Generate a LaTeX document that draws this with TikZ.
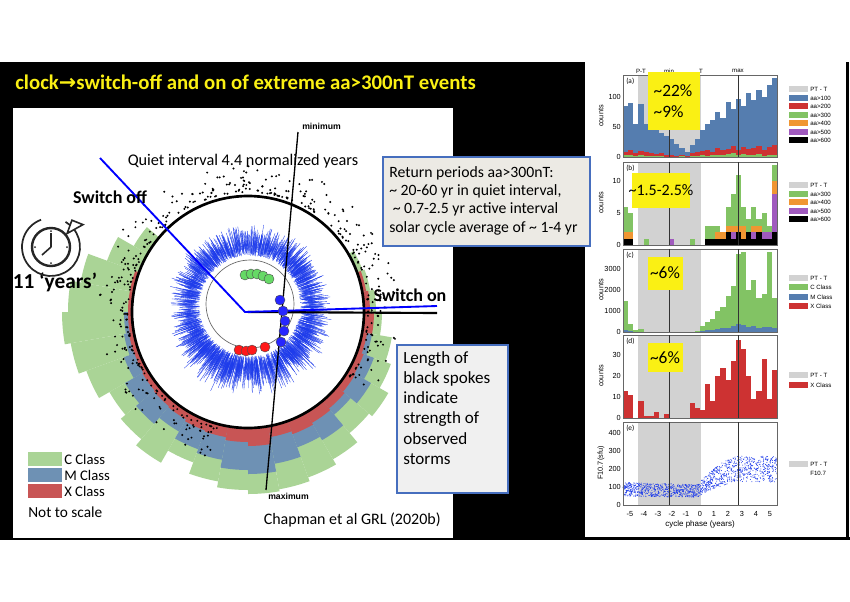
\documentclass[tikz,border=0pt]{standalone}
\usepackage{fontspec}
\setmainfont{Carlito}
\newfontfamily\plotfont{Liberation Sans}
\newfontfamily\symfont{DejaVu Sans}
\usepackage{tikz}
\usetikzlibrary{positioning,arrows}
\definecolor{slideyellow}{RGB}{250,240,20}
\definecolor{wgreen}{RGB}{170,212,150}
\definecolor{wblue}{RGB}{110,145,180}
\definecolor{wred}{RGB}{200,85,85}
\definecolor{ringblue}{RGB}{30,60,235}
\definecolor{pblue}{RGB}{85,125,175}
\definecolor{pred}{RGB}{205,50,50}
\definecolor{pgreen}{RGB}{130,195,100}
\definecolor{porange}{RGB}{240,150,50}
\definecolor{ppurple}{RGB}{160,90,190}
\definecolor{pgrey}{RGB}{210,210,210}
\definecolor{boxfill}{RGB}{236,234,228}
\definecolor{boxline}{RGB}{70,110,190}
\tikzset{
  slidetext/.style = {font=\fontsize{11}{13}\selectfont, inner sep=0pt},
  bigtext/.style = {font=\fontsize{13.5}{15}\selectfont\bfseries, inner sep=0pt},
  infobox/.style = {draw=boxline, line width=1pt, fill=boxfill},
  yellowtag/.style = {fill=slideyellow, inner sep=0pt},
  tagtext/.style = {font=\fontsize{13}{14}\selectfont, inner sep=0pt},
  tinytext/.style = {font=\plotfont\fontsize{4.6}{5}\selectfont, inner sep=0pt},
  axtext/.style = {font=\plotfont\fontsize{5.5}{6}\selectfont, inner sep=0pt},
  marker/.style = {circle, draw=black!70, line width=0.3pt, minimum size=7.5pt, inner sep=0pt}
}
\begin{document}
\begin{tikzpicture}[x=0.75pt,y=-0.75pt]
\useasboundingbox (0,0) rectangle (850,601);
\fill[white] (0,0) rectangle (850,601);
% slide background
\fill[black] (0,62) rectangle (585,540);
\fill[black] (585,537) rectangle (850,540);
\fill[black] (846,62) rectangle (849,540);
\node[anchor=west, text=slideyellow, font=\fontsize{15.6}{17}\selectfont\bfseries, inner sep=0pt] (title) at (15,82)
  {clock{\symfont\bfseries →}switch-off and on of extreme aa>300nT events};
\fill[white] (13,108) rectangle (453,538);

% wheel
\def\cx{248}\def\cy{312}
\coordinate (ctr) at (\cx,\cy);
\begin{scope}[shift={(\cx,\cy)}]
  \foreach \a/\r in {-30/122,-20/124,-10/128,0/134,10/146,20/152,30/162,40/158,50/170,60/176,
      70/180,80/182,90/178,100/172,110/160,120/174,130/166,140/160,150/172,160/180,170/186,180/180,
      190/170,200/150,210/132}
    \fill[wgreen] (0,0) -- (\a:\r) arc[start angle=\a, end angle=\a+10, radius=\r] -- cycle;
  \foreach \a/\r in {0/122,10/126,20/134,30/142,40/134,50/148,60/144,70/154,80/162,90/158,
      100/150,110/146,120/138,130/146,140/142,150/132,160/126,170/124}
    \fill[wblue] (0,0) -- (\a:\r) arc[start angle=\a, end angle=\a+10, radius=\r] -- cycle;
  \foreach \a/\r in {-20/120,-10/122,0/126,10/121,20/123,30/124,40/126,50/128,60/130,70/127,
      80/134,90/130,100/127,110/126,120/124,130/123,140/122,150/121,160/121,170/120,180/120,190/120}
    \fill[wred] (0,0) -- (\a:\r) arc[start angle=\a, end angle=\a+10, radius=\r] -- cycle;
  \fill[white] (0,0) circle (116);
  % spoke dots
  \pgfmathsetseed{11}
  \foreach \k in {1,...,420}{
    \pgfmathsetmacro\t{-255+290*rnd}
    \pgfmathsetmacro\rr{120+30*rnd^2}
    \fill[black] (\t:\rr) circle (1.1);
  }
  \draw[black, line width=2pt] (0,0) circle (116);
\end{scope}

% noisy ring
\begin{scope}[shift={(250,306)}]
  \pgfmathsetseed{5}
  \foreach \k in {1,...,2600}{
    \pgfmathsetmacro\t{rnd*360}
    \pgfmathsetmacro\ra{50+12*rnd}
    \pgfmathsetmacro\rb{\ra+4+18*rnd^2+16*max(0,sin(\t))*rnd^2}
    \draw[ringblue, line width=0.25pt] (\t:\ra) -- (\t:\rb);
  }
  \draw[black!60, line width=0.5pt] (0,-2) circle (44);
\end{scope}

% connectors
\coordinate (minpt) at (298,132);
\coordinate (maxpt) at (266,490);
\coordinate (offend) at (100,158);
\coordinate (onend) at (437,306);
\coordinate (offctr) at (245,312);
\coordinate (rightend) at (437,313);
\draw[black, line width=1pt] (maxpt) -- (minpt);
\draw[black, line width=1.6pt] (ctr) -- (rightend);
\draw[blue, line width=1.4pt] (offend) -- (offctr) -- (onend);

% markers
\foreach \p [count=\i] in {(245,275),(251,274),(257,274),(263,276),(269,279)}
  \node[marker, fill=green!75!black!60] (g\i) at \p {};
\foreach \p [count=\i] in {(280,300),(283,311),(285,321),(284,331),(281,342)}
  \node[marker, fill=blue!85] (b\i) at \p {};
\foreach \p [count=\i] in {(239,350),(246,351),(252,350),(265,347)}
  \node[marker, fill=red!90] (r\i) at \p {};

% labels on wheel
\node[tinytext, font=\plotfont\fontsize{6.5}{7}\selectfont\bfseries, anchor=west] (minlbl) at (302,126) {minimum};
\node[tinytext, font=\plotfont\fontsize{6.5}{7}\selectfont\bfseries, anchor=west] (maxlbl) at (268,496) {maximum};
\node[slidetext, font=\fontsize{12.2}{14}\selectfont] (quiet) at (243,161) {Quiet interval 4.4 normalized years};
\node[bigtext] (swoff) at (110,197) {Switch off};
\node[bigtext] (swon) at (410,295) {Switch on};
\node[bigtext, font=\fontsize{16}{18}\selectfont\bfseries] (years) at (55,282) {11 ‘years’};

% clock
\begin{scope}[shift={(51,247)}]
  \draw[black!85, line width=1.8pt] (0,0) circle (19);
  \draw[black!85, line width=1.2pt] (0,0) -- (0,-14) (0,0) -- (-9,8);
  \foreach \a in {0,90,180,270} \fill[black!85] (\a:16) circle (1);
  \draw[black!85, line width=1.3pt] (-40:29) arc[start angle=-40, end angle=250, radius=29];
  \draw[black!85, line width=1.3pt] (-60:29) arc[start angle=-60, end angle=-40, radius=29];
  \draw[black!85, line width=1.2pt, fill=white] (-40:21) -- (-52:34) -- (-35:39) -- cycle;
\end{scope}

% legend and credits
\foreach \c/\t/\y in {wgreen/C Class/459, wblue/M Class/475, wred/X Class/491}{
  \fill[\c] (28,\y-7) rectangle (62,\y+7);
  \node[slidetext, font=\fontsize{11}{12}\selectfont, anchor=west] at (64,\y) {\t};
}
\node[slidetext, font=\fontsize{11.5}{13}\selectfont, anchor=west] (noscale) at (28,512) {Not to scale};
\node[slidetext, font=\fontsize{12}{14}\selectfont, anchor=east] (credit) at (441,520) {Chapman et al GRL (2020b)};

% text boxes
\draw[infobox] (383,157) rectangle (590,246);
\node[slidetext, font=\fontsize{11.8}{13.8}\selectfont, align=left, anchor=north west] (retbox) at (389,166)
  {Return periods aa>300nT:\\ \textasciitilde{} 20-60 yr in quiet interval,\\ \ \textasciitilde{} 0.7-2.5 yr active interval\\ solar cycle average of \textasciitilde{} 1-4 yr};
\draw[infobox, fill=black!6] (397,345) rectangle (508,493);
\node[slidetext, font=\fontsize{12.8}{15.2}\selectfont, align=left, anchor=north west] (spokebox) at (403,351)
  {Length of\\ black spokes\\ indicate\\ strength of\\ observed\\ storms};

% right panel: histograms
\def\xa{623}\def\w{5.13}
\foreach \ya/\yb in {75/157, 162/245, 249/332, 335/418, 422/505}{
  \fill[pgrey] (638,\ya) rectangle (701,\yb);
}
% (a)
\foreach \v [count=\i] in {85,90,55,88,55,50,45,40,35,30,22,15,8,20,30,45,55,62,75,65,92,80,97,85,106,95,112,100,120,132}
  \fill[pblue] (\xa+\i*\w-\w,157) rectangle ++(\w,-\v*0.6);
\foreach \v [count=\i] in {9,12,7,10,8,6,5,7,4,3,2,3,2,6,8,10,12,9,15,11,14,18,12,16,13,15,19,12,17,20}
  \fill[pred] (\xa+\i*\w-\w,157) rectangle ++(\w,-\v*0.6);
\foreach \v [count=\i] in {3,4,2,3,2,1,1,2,0,0,0,1,0,1,2,3,2,3,4,3,5,6,4,5,3,4,5,2,3,4}
  \fill[pgreen] (\xa+\i*\w-\w,157) rectangle ++(\w,-\v*0.6);
% (b)
\foreach \v [count=\i] in {6,5,0,0,1,0,0,0,0,1,0,0,0,1,0,0,3,3,3,2,6,8,11,6,4,6,4,5,3,12.5}
  \fill[pgreen] (\xa+\i*\w-\w,245) rectangle ++(\w,-\v*6.4);
\foreach \v [count=\i] in {2,2,0,0,0,0,0,0,0,1,0,0,0,0,0,0,1,1,2,2,3,3,3,3,2,3,3,2,2,10}
  \fill[porange] (\xa+\i*\w-\w,245) rectangle ++(\w,-\v*6.4);
\foreach \v [count=\i] in {1,1,0,0,0,0,0,0,0,1,0,0,0,0,0,0,1,1,1,1,2,2,2,1,2,2,2,2,2,8}
  \fill[ppurple] (\xa+\i*\w-\w,245) rectangle ++(\w,-\v*6.4);
\foreach \v [count=\i] in {1,1,0,0,0,0,0,0,0,0,0,0,0,0,0,0,1,1,1,1,2,1,2,1,2,1,2,1,1,2}
  \fill[black] (\xa+\i*\w-\w,245) rectangle ++(\w,-\v*6.4);
% (c)
\foreach \v [count=\i] in {1500,400,100,150,0,0,0,0,0,0,0,0,0,0,50,300,500,600,1000,1200,1700,2200,3700,3800,2000,2500,1600,1800,3800,1600}
  \fill[pgreen] (\xa+\i*\w-\w,332) rectangle ++(\w,-\v*0.021);
\foreach \v [count=\i] in {100,50,0,0,0,0,0,0,0,0,0,0,0,0,0,50,80,100,150,200,200,300,400,350,250,300,200,250,250,200}
  \fill[pblue] (\xa+\i*\w-\w,332) rectangle ++(\w,-\v*0.021);
% (d)
\foreach \v [count=\i] in {13,11,0,8,1,1,3,0,2,0,0,0,0,7,5,4,16,8,20,24,18,27,37,33,20,9,13,28,9,23}
  \fill[pred] (\xa+\i*\w-\w,418) rectangle ++(\w,-\v*2.1);
% (e)
\begin{scope}
  \pgfmathsetseed{3}
  \foreach \k in {1,...,1400}{
    \pgfmathsetmacro\ph{-5.5+11*rnd}
    \pgfmathsetmacro\base{\ph<0 ? 80+8*\ph*\ph/30 : 90+110*sin(min(\ph,3)*30)}
    \pgfmathsetmacro\val{\base+(12+0.3*\base)*rand}
    \fill[ringblue] (700+14*\ph,505-\val*0.18) circle (0.5);
  }
\end{scope}
% frames, phase lines, labels
\foreach \ya/\yb/\lt in {75/157/a, 162/245/b, 249/332/c, 335/418/d, 422/505/e}{
  \draw[black!60, line width=0.5pt] (623,\ya) rectangle (777,\yb);
  \draw[black!80, line width=0.6pt] (669,\ya) -- (669,\yb) (738,\ya) -- (738,\yb);
  \node[tinytext, font=\fontsize{5.5}{6}\selectfont, anchor=north west] at (626,\ya+3) {(\lt)};
}
\foreach \x/\t in {641/P-T, 669/min, 701/T, 738/max}
  \node[tinytext] at (\x,71) {\t};
\foreach \v/\y in {0/157,50/127,100/97, 0/245,5/213,10/181, 0/332,1000/311,2000/290,3000/269,
    0/418,10/397,20/376,30/355, 0/505,100/487,200/469,300/451,400/433}
  \node[axtext, anchor=east] at (621,\y) {\v};
\foreach \y in {116,203,290,376}
  \node[axtext, rotate=90] at (601,\y) {counts};
\node[axtext, rotate=90] at (601,463) {F10.7(sfu)};
\foreach \p in {-5,...,5}
  \node[axtext] at (700+14*\p,514) {\p};
\node[axtext, font=\plotfont\fontsize{6}{7}\selectfont] (phase) at (700,524) {cycle phase (years)};
% right panel legends
\foreach \c/\t/\y in {pgrey/PT - T/89, pblue/aa>100/98, pred/aa>200/106, pgreen/aa>300/115, porange/aa>400/123, ppurple/aa>500/132, black/aa>600/140,
    pgrey/PT - T/185, pgreen/aa>300/194, porange/aa>400/202, ppurple/aa>500/211, black/aa>600/219,
    pgrey/PT - T/278, pgreen/C Class/287, pblue/M Class/297, pred/X Class/306,
    pgrey/PT - T/375, pred/X Class/385, pgrey/PT - T/464}{
  \fill[\c] (789,\y-3.3) rectangle (808,\y+3.3);
  \node[tinytext, anchor=west] at (810,\y) {\t};
}
\node[tinytext, anchor=west] at (810,473) {F10.7};
% yellow tags
\fill[yellowtag] (648,72) rectangle (700,130);
\node[tagtext, align=left] (tagA) at (673,101) {\textasciitilde22\%\\[2pt]\textasciitilde9\%};
\fill[yellowtag] (632,173) rectangle (690,208);
\node[tagtext, font=\fontsize{12}{13}\selectfont] (tagB) at (661,190) {\textasciitilde1.5-2.5\%};
\fill[yellowtag] (648,257) rectangle (683,290);
\node[tagtext] (tagC) at (665,273) {\textasciitilde6\%};
\fill[yellowtag] (648,343) rectangle (683,372);
\node[tagtext] (tagD) at (665,358) {\textasciitilde6\%};
\end{tikzpicture}
\end{document}
